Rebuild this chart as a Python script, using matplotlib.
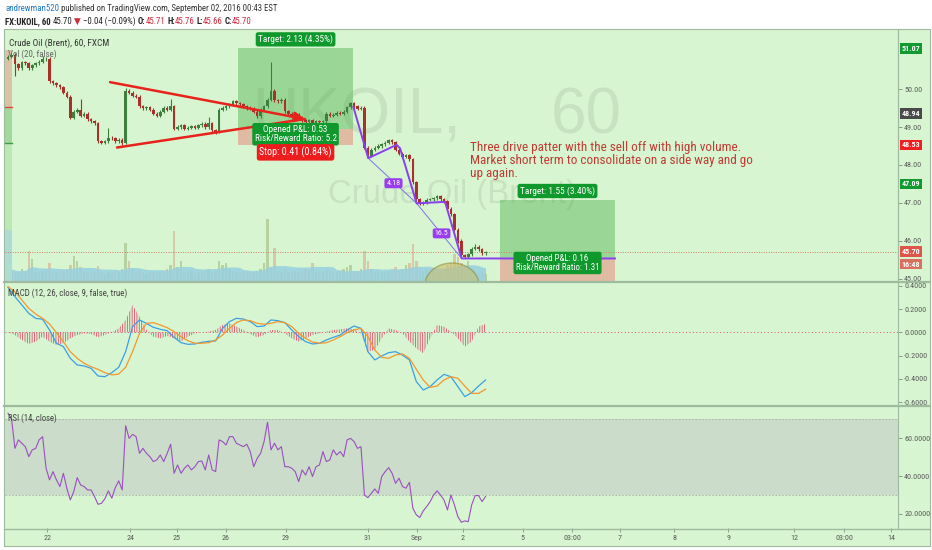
import matplotlib
matplotlib.use('Agg')
import matplotlib.pyplot as plt
import numpy as np
import pandas as pd
from matplotlib import font_manager as fm
from matplotlib.patches import Rectangle, Ellipse
from matplotlib.lines import Line2D
from matplotlib.ticker import FormatStrFormatter

# ---- dati (barre da 2 ore, indice 0..138) ----
first_open = 50.80
closes = [
    50.85, 50.90, 50.65, 50.55, 50.70, 50.68, 50.55, 50.62, 50.68, 50.72,
    50.78, 50.80, 50.20, 50.15, 50.10, 50.05, 49.90, 49.80, 49.25, 49.40,
    49.45, 49.30, 49.35, 49.20, 49.15, 49.10, 48.62, 48.58, 48.62, 48.72,
    48.70, 48.62, 48.66, 48.58, 49.95, 49.90, 49.82, 49.80, 49.55, 49.50,
    49.52, 49.45, 49.35, 49.30, 49.40, 49.50, 49.45, 49.55, 48.95, 49.00,
    49.05, 48.95, 48.98, 49.02, 48.98, 49.05, 49.08, 49.00, 49.10, 48.92,
    48.88, 49.45, 49.50, 49.55, 49.58, 49.68, 49.62, 49.60, 49.55, 49.50,
    49.48, 49.40, 49.28, 49.45, 49.55, 49.72, 49.95, 49.70, 49.68, 49.72,
    49.42, 49.35, 49.30, 49.32, 49.25, 49.18, 49.12, 49.18, 49.10, 49.15,
    49.12, 49.15, 49.35, 49.30, 49.32, 49.38, 49.35, 49.40, 49.52, 49.62,
    49.55, 49.48, 49.50, 48.45, 48.25, 48.40, 48.45, 48.50, 48.55, 48.58,
    48.65, 48.60, 48.40, 48.30, 48.22, 48.25, 48.15, 47.55, 47.10, 47.00,
    47.02, 47.08, 47.10, 47.12, 47.18, 47.10, 47.05, 46.85, 46.70, 46.30,
    46.00, 45.62, 45.58, 45.65, 45.80, 45.85, 45.78, 45.68, 45.70,
]
spike_high = {10: 50.88, 21: 49.75, 29: 48.97, 34: 50.02, 47: 49.75, 58: 49.27,
              76: 50.72, 124: 47.22, 135: 45.92}
spike_low = {2: 50.33, 33: 48.52, 60: 48.82, 131: 45.55}

volume = [
    14, 10, 9, 8, 12, 10, 30, 22, 9, 8,
    10, 12, 18, 9, 8, 10, 9, 12, 16, 25,
    20, 14, 9, 8, 10, 9, 15, 8, 7, 9,
    8, 10, 9, 12, 38, 20, 12, 9, 10, 8,
    7, 9, 8, 10, 9, 8, 12, 16, 50, 14,
    20, 9, 8, 10, 7, 9, 8, 10, 12, 9,
    10, 20, 16, 18, 12, 10, 9, 8, 10, 9,
    8, 9, 10, 12, 18, 62, 14, 33, 10, 9,
    12, 9, 8, 10, 9, 8, 12, 10, 18, 9,
    8, 9, 12, 10, 8, 9, 10, 12, 14, 16,
    10, 9, 12, 30, 20, 12, 9, 10, 8, 9,
    10, 12, 14, 10, 12, 16, 18, 37, 20, 14,
    10, 12, 9, 10, 8, 9, 12, 16, 18, 27,
    24, 18, 14, 20, 12, 10, 8, 9, 7,
]

# MACD letto ogni 2 barre
macd_line = [
    0.386, 0.306, 0.235, 0.163, 0.120, 0.112, 0.020, -0.094, -0.123, -0.223,
    -0.280, -0.289, -0.309, -0.375, -0.381, -0.346, -0.300, -0.166, 0.049, 0.106,
    0.077, 0.043, 0.026, 0.014, -0.043, -0.089, -0.103, -0.100, -0.086, -0.077,
    -0.074, 0.034, 0.092, 0.120, 0.114, 0.092, 0.049, 0.054, 0.106, 0.100,
    0.083, 0.020, -0.037, -0.080, -0.100, -0.094, -0.066, -0.043, -0.023, 0.020,
    0.054, 0.034, -0.166, -0.237, -0.203, -0.175, -0.166, -0.195, -0.237, -0.423,
    -0.495, -0.466, -0.409, -0.361, -0.381, -0.466, -0.552, -0.518, -0.461, -0.409,
]
signal_line = [
    0.392, 0.349, 0.278, 0.206, 0.157, 0.120, 0.072, -0.003, -0.080, -0.166,
    -0.223, -0.266, -0.295, -0.318, -0.346, -0.366, -0.358, -0.300, -0.166, -0.009,
    0.077, 0.083, 0.063, 0.040, 0.006, -0.037, -0.072, -0.094, -0.094, -0.089,
    -0.066, -0.023, 0.034, 0.083, 0.106, 0.100, 0.077, 0.069, 0.077, 0.092,
    0.083, 0.049, -0.009, -0.052, -0.083, -0.094, -0.089, -0.066, -0.037, -0.003,
    0.020, 0.034, -0.037, -0.152, -0.215, -0.223, -0.195, -0.186, -0.223, -0.318,
    -0.409, -0.472, -0.461, -0.409, -0.381, -0.395, -0.461, -0.524, -0.524, -0.489,
]
macd_hist = [
    0.000, -0.023, -0.066, -0.100, -0.080, -0.037, -0.080, -0.109, -0.094, -0.052,
    -0.023, -0.009, -0.014, -0.043, -0.023, 0.000, 0.034, 0.106, 0.235, 0.134,
    0.020, -0.037, -0.052, -0.031, -0.052, -0.080, -0.037, -0.009, 0.000, 0.006,
    0.020, 0.063, 0.077, 0.049, 0.020, -0.014, -0.043, -0.023, 0.020, 0.020,
    -0.009, -0.052, -0.080, -0.052, -0.023, -0.009, 0.006, 0.020, 0.026, 0.034,
    0.026, -0.009, -0.166, -0.152, -0.052, 0.034, 0.020, -0.009, -0.080, -0.137,
    -0.180, -0.052, 0.063, 0.049, 0.006, -0.052, -0.123, -0.080, 0.049, 0.072,
]

rsi = [
    73.3, 70.6, 54.7, 59.2, 57.4, 55.6, 50.3, 53.9, 54.7, 59.2,
    60.9, 44.2, 38.0, 42.4, 38.0, 34.5, 41.5, 33.6, 27.4, 31.8,
    39.2, 35.3, 34.5, 32.7, 32.7, 29.2, 25.1, 25.6, 28.0, 32.2,
    28.3, 33.9, 37.5, 32.7, 66.7, 60.0, 62.1, 60.9, 52.1, 54.7,
    52.1, 50.3, 47.7, 48.6, 51.2, 47.7, 52.1, 56.9, 41.5, 45.9,
    41.5, 44.2, 45.9, 43.3, 45.0, 47.7, 48.0, 43.3, 51.2, 43.3,
    42.4, 59.2, 58.3, 56.5, 60.9, 60.9, 57.4, 56.5, 55.6, 56.9,
    53.0, 45.0, 49.4, 52.1, 58.3, 68.5, 53.9, 57.4, 53.9, 55.6,
    45.0, 45.0, 44.2, 42.4, 37.1, 43.3, 40.6, 45.0, 39.8, 45.0,
    45.9, 53.0, 47.7, 48.6, 53.9, 51.2, 53.0, 50.3, 59.2, 60.0,
    58.3, 54.7, 55.6, 30.0, 28.6, 30.9, 33.2, 30.9, 39.8, 42.4,
    44.5, 41.5, 36.2, 38.9, 34.5, 33.6, 36.7, 23.0, 19.5, 18.1,
    21.6, 23.9, 26.5, 30.0, 32.2, 30.0, 27.4, 22.1, 30.0, 24.8,
    18.6, 15.6, 16.3, 15.9, 24.8, 29.7, 29.7, 26.5, 29.2,
]

date_ticks = [11.3, 35.3, 48.8, 63.0, 80.3, 104.0, 118.2, 131.5, 148.8, 163.0,
              176.9, 192.5, 208.1, 227.2, 241.6, 255.2]
date_labels = ['22', '24', '25', '26', '29', '31', 'Sep', '2', '5', '03:00',
               '7', '8', '9', '12', '03:00', '14']

# disegni (in barre / prezzo)
pos1 = dict(x0=66.5, x1=99.7, target=51.07, entry=48.94, stop=48.53)
pos2 = dict(x0=142.2, x1=175.4, target=47.09, entry=45.54, stop=44.36)
tri_upper = [(29.5, 50.18), (85.8, 49.21)]
tri_lower = [(31.5, 48.46), (85.8, 49.21)]
drive_x = [99.8, 104.1, 112.3, 113.3, 118.1, 126.3, 131.1, 175.4]
drive_y = [49.53, 48.18, 48.53, 48.44, 46.99, 47.03, 45.54, 45.54]
drive_thin_x = [104.1, 118.1, 131.1]
drive_thin_y = [48.18, 46.99, 45.54]
last_price = 45.70
axis_tags = [('51.07', 51.07, '#109a30'), ('48.94', 49.36, '#4a4a4a'),
             ('48.53', 48.53, '#f01e1e'), ('47.09', 47.50, '#109a30'),
             ('45.70', 45.72, '#e0554a'), ('16:48', 45.39, '#d9705e')]

# ---- font: preferiamo un carattere stretto se installato ----
_names = {f.name for f in fm.fontManager.ttflist}
_narrow = [n for n in ('Liberation Sans Narrow', 'Roboto Condensed', 'Open Sans Condensed')
           if n in _names]
STRETCH = 'normal'
if _narrow:
    FONT, BOOST = [_narrow[0], 'DejaVu Sans'], 1.0
elif any(f.name == 'DejaVu Sans' and str(f.stretch) in ('condensed', 'semi-condensed')
         for f in fm.fontManager.ttflist):
    FONT, BOOST, STRETCH = ['DejaVu Sans'], 1.0, 'condensed'
else:
    FONT, BOOST = ['Liberation Sans', 'DejaVu Sans'], 1.13
WIDE = ['Liberation Sans', 'DejaVu Sans']

# ---- figura ----
W, H = 932, 550
BG = '#d7f5d0'
FRAME = '#9fbb9f'
UP, DOWN = '#3d7f3d', '#a8322a'
plt.rcParams['hatch.linewidth'] = 0.6
plt.rcParams['hatch.color'] = '#e2506e'

fig = plt.figure(figsize=(W / 100, H / 100), dpi=100)
fig.patch.set_facecolor('white')
R = fig.canvas.get_renderer()


def px_axes(l, t, r, b, **kw):
    return fig.add_axes([l / W, 1 - b / H, (r - l) / W, (b - t) / H], **kw)


def fit(t, width_px, boost=None):
    w = t.get_window_extent(R).width
    t.set_fontsize(t.get_fontsize() * width_px / w * (BOOST if boost is None else boost))


def ftext(x, y, s, width=None, **kw):
    kw.setdefault('family', FONT)
    kw.setdefault('stretch', STRETCH)
    t = fig.text(x / W, 1 - y / H, s, **kw)
    if width:
        fit(t, width)
    return t


def seq_text(x0, y0, parts, total_w, base=7):
    def build(fs):
        tmp = fig.text(0, 0, 'x x', fontsize=fs, family=FONT, stretch=STRETCH)
        w1 = tmp.get_window_extent(R).width
        tmp.set_text('xx')
        sp = w1 - tmp.get_window_extent(R).width
        tmp.remove()
        x, arts = x0, []
        for s, c, wgt, gap in parts:
            t = fig.text(x / W, 1 - y0 / H, s, color=c, fontweight=wgt, fontsize=fs,
                         family=FONT, stretch=STRETCH, va='baseline', ha='left')
            x += t.get_window_extent(R).width + (sp if gap else 0)
            arts.append(t)
        return arts, x - x0
    arts, w = build(base)
    for a in arts:
        a.remove()
    build(base * total_w / w * BOOST)


# sfondo con cornice
bg = px_axes(4, 29, 930, 546)
bg.set_facecolor(BG)
bg.set_xticks([])
bg.set_yticks([])
for s in bg.spines.values():
    s.set_color(FRAME)

ax = px_axes(5, 30, 898, 281)
vax = ax.twinx()
am = px_axes(5, 282, 898, 405, sharex=ax)
ar = px_axes(5, 407, 898, 528, sharex=ax)

for a in (ax, vax, am, ar):
    a.set_facecolor('none')
    for k, s in a.spines.items():
        s.set_visible(k == 'right')
        s.set_color(FRAME)
ax.set_zorder(vax.get_zorder() + 1)
ax.set_xlim(-0.87, 257.2)

# separatori pannelli
for yy in (281.5, 406.0, 528.5):
    fig.add_artist(Line2D([4 / W, 930 / W], [1 - yy / H] * 2, color=FRAME,
                          lw=1.6 if yy < 500 else 1.0))

# ---- pannello prezzo ----
ax.set_ylim(44.947, 51.553)
vax.set_ylim(0, 250)
vax.set_yticks([])
vax.tick_params(right=False, labelright=False)

x = np.arange(len(closes))
c = np.array(closes)
o = np.r_[first_open, c[:-1]]
hi = np.maximum(o, c) + 0.04
lo = np.minimum(o, c) - 0.04
for k, v in spike_high.items():
    hi[k] = v
for k, v in spike_low.items():
    lo[k] = v
col = np.where(c >= o, UP, DOWN)

# volume + media 20
vcol = np.where(c >= o, '#b3cf9c', '#d8c3a2')
vax.bar(x, volume, width=0.7, color=vcol, alpha=0.9, zorder=1)
vma = pd.Series(volume).rolling(20, min_periods=1).mean()
vax.fill_between(x, 0, vma, color='#98d0e0', alpha=0.85, lw=0, zorder=2)

# striscia a sinistra
ax.add_patch(Rectangle((-0.87, 49.53), 2.0, 51.03 - 49.53, fc='#dcc2a4', ec='none', zorder=1))
ax.add_patch(Rectangle((-0.87, 48.58), 2.0, 49.53 - 48.58, fc='#a2d99a', ec='none', zorder=1))
ax.add_patch(Rectangle((-0.87, 46.30), 2.0, 48.58 - 46.30, fc='#bce8b4', ec='none', zorder=1))
ax.add_patch(Rectangle((-0.87, 44.95), 2.0, 46.30 - 44.95, fc='#aedcd0', ec='none', zorder=1))
ax.plot([-0.87, 1.13], [49.53, 49.53], color='#e04a3a', lw=1, zorder=1.2)
ax.plot([-0.87, 1.13], [48.58, 48.58], color='#3aa040', lw=1, zorder=1.2)

# filigrana (simbolo a sinistra, timeframe a destra, come su TradingView)
WM = dict(transform=fig.transFigure, va='baseline', color='#7a8a7a', alpha=0.17,
          fontsize=46, family=WIDE, zorder=0.5)
ax.text(252 / W, 1 - 133 / H, 'UKOIL,', ha='left', **WM)
ax.text(622 / W, 1 - 133 / H, '60', ha='right', **WM)
wm2 = ax.text(452 / W, 1 - 194 / H, 'Crude Oil (Brent)', transform=fig.transFigure,
              ha='center', va='center', color='#7a8a7a', alpha=0.17, fontsize=26,
              family=WIDE, zorder=0.5)
fit(wm2, 250, 1.0)

# posizioni long (zone semitrasparenti, la filigrana resta visibile)
for p in (pos1, pos2):
    ax.add_patch(Rectangle((p['x0'], p['entry']), p['x1'] - p['x0'], p['target'] - p['entry'],
                           fc='#3caa3c', alpha=0.39, ec='none', zorder=1.5))
    ax.add_patch(Rectangle((p['x0'], p['stop']), p['x1'] - p['x0'], p['entry'] - p['stop'],
                           fc='#ed6464', alpha=0.40, ec='none', zorder=1.5))

# ellisse in basso
ax.add_patch(Ellipse((128.3, 44.84), 15.6, 1.16, fc='#c8c070', ec='#8e8e3a', lw=1,
                     alpha=0.6, zorder=2))

ax.axhline(last_price, color='#d0806a', ls=(0, (1, 1.5)), lw=0.7, zorder=3)

# candele
ax.vlines(x, lo, hi, colors=col, lw=0.8, zorder=4)
ax.bar(x, np.maximum(np.abs(c - o), 0.015), bottom=np.minimum(o, c), width=0.75,
       color=col, zorder=5)

# triangolo rosso
(ux0, uy0), (ux1, uy1) = tri_upper
ax.annotate('', xy=(ux1, uy1), xytext=(ux0, uy0),
            arrowprops=dict(arrowstyle='-|>,head_length=0.6,head_width=0.3',
                            color='#e8231c', lw=1.8, shrinkA=0, shrinkB=0), zorder=6)
ax.plot(*zip(*tri_lower), color='#e8231c', lw=1.8, zorder=6, solid_capstyle='round')

# three drive
ax.plot(drive_thin_x, drive_thin_y, color='#7a74e6', lw=0.7, zorder=6)
ax.plot(drive_x, drive_y, color='#8a3ff0', lw=1.4, zorder=6)


def tag(xp, yp, s, fc, dy_px, width_px, z=9):
    t = ax.annotate(s, xy=(xp, yp), xytext=(0, dy_px * 0.72), textcoords='offset points',
                    ha='center', va='center', color='white', fontsize=7, family=FONT,
                    stretch=STRETCH, linespacing=1.0, zorder=z,
                    bbox=dict(boxstyle='round,pad=0.25,rounding_size=0.25', fc=fc, ec='none'))
    fit(t, width_px)
    return t


GREEN_TAG, RED_TAG, PURPLE_TAG = '#0f982b', '#ee1d1d', '#9a3cf0'
c1 = (pos1['x0'] + pos1['x1']) / 2
c2 = (pos2['x0'] + pos2['x1']) / 2
tag(c1, pos1['target'], 'Target: %.2f (4.35%%)' % (pos1['target'] - pos1['entry']), GREEN_TAG, 9, 76)
tag(c1, pos1['entry'], 'Opened P&L: 0.53\nRisk/Reward Ratio: 5.2', GREEN_TAG, -5, 82)
tag(c1, pos1['stop'], 'Stop: %.2f (0.84%%)' % (pos1['entry'] - pos1['stop']), RED_TAG, -7.5, 73)
tag(c2, pos2['target'], 'Target: %.2f (3.40%%)' % (pos2['target'] - pos2['entry']), GREEN_TAG, 8.6, 76)
tag(c2, pos2['entry'], 'Opened P&L: 0.16\nRisk/Reward Ratio: 1.31', GREEN_TAG, -4.5, 84)
tag(111.4, 47.52, '4.18', PURPLE_TAG, 0, 14)
tag(125.3, 46.20, '16.5', PURPLE_TAG, 0, 14)

# asse prezzi a destra
ax.yaxis.tick_right()
ax.set_yticks([45, 46, 47, 48, 49, 50])
ax.yaxis.set_major_formatter(FormatStrFormatter('%.2f'))
for a in (ax, am, ar):
    a.tick_params(axis='y', direction='out', length=3, width=0.6, color='#7d8f7d',
                  labelcolor='#5a5a5a', labelsize=5.8, pad=1.5)
    a.yaxis.tick_right()
ax.tick_params(axis='x', bottom=False, labelbottom=False)
am.tick_params(axis='x', bottom=False, labelbottom=False)

for s, yv, fc in axis_tags:
    ax.annotate(s, xy=(1, yv), xycoords=('axes fraction', 'data'), xytext=(2.6, 0),
                textcoords='offset points', ha='left', va='center', color='white',
                fontsize=5.8, family=FONT, stretch=STRETCH, fontweight='bold',
                annotation_clip=False, zorder=10,
                bbox=dict(boxstyle='square,pad=0.22', fc=fc, ec='none'))

# ---- MACD ----
am.set_ylim(-0.624, 0.432)
mx = np.arange(0, len(closes), 2)
am.axhline(0, color='#e2506e', ls=(0, (1, 2.5)), lw=0.7)
am.fill_between(mx, 0, macd_hist, facecolor='none', edgecolor='#e2506e',
                hatch='|||||||', linewidth=0)
am.plot(mx, macd_line, color='#3b9fe6', lw=0.9)
am.plot(mx, signal_line, color='#f2972f', lw=0.9)
am.set_yticks([0.4, 0.2, 0.0, -0.2, -0.4, -0.6])
am.yaxis.set_major_formatter(FormatStrFormatter('%.4f'))

# ---- RSI ----
ar.set_ylim(12.54, 76.6)
ar.axhspan(30, 70, color='#cbdcca', lw=0, zorder=0)
for lv in (30, 70):
    ar.axhline(lv, color='#a3b3a3', ls=(0, (2, 2)), lw=0.6, zorder=0.5)
ar.plot(x, rsi, color='#9b4fbf', lw=0.8)
ar.set_yticks([20, 40, 60])
ar.yaxis.set_major_formatter(FormatStrFormatter('%.4f'))

ar.set_xticks(date_ticks)
ar.set_xticklabels(date_labels)
ar.tick_params(axis='x', direction='out', length=3, width=0.6, color='#7d8f7d',
               labelcolor='#5a5a5a', labelsize=5.8, pad=2)
for a in (ax, am, ar):
    for lab in a.get_yticklabels() + a.get_xticklabels():
        lab.set_family(FONT)
        lab.set_stretch(STRETCH)

# ---- testi ----
seq_text(5, 11, [('andrewman520', '#1f78c1', 'normal', True),
                 ('published on TradingView.com, September 02, 2016 00:43 EST', '#333333',
                  'normal', False)], 272)
RED = '#cf2a3a'
DARK = '#222222'
seq_text(5, 24, [('FX:UKOIL, 60', DARK, 'bold', True), ('45.70', DARK, 'normal', True),
                 ('\u25bc', RED, 'normal', True), ('\u22120.04 (\u22120.09%)', DARK, 'normal', True),
                 ('O:', DARK, 'bold', False), ('45.71', RED, 'normal', True),
                 ('H:', DARK, 'bold', False), ('45.76', RED, 'normal', True),
                 ('L:', DARK, 'bold', False), ('45.66', RED, 'normal', True),
                 ('C:', DARK, 'bold', False), ('45.70', RED, 'normal', False)], 248)

ftext(9, 46, 'Crude Oil (Brent), 60, FXCM', width=100, color='#333333', va='baseline')
ftext(8, 57, 'Vol (20, false)', width=49, color='#666666', va='baseline')
ftext(8, 296, 'MACD (12, 26, close, 9, false, true)', width=120, color='#444444', va='baseline')
ftext(8, 421, 'RSI (14, close)', width=49, color='#444444', va='baseline')
ftext(470, 141, 'Three drive patter with the sell off with high volume.\n'
      'Market short term to consolidate on a side way and go\nup again.',
      width=282, color='#c23b33', va='top', linespacing=1.0)

fig.savefig('out.png', dpi=100, facecolor=fig.get_facecolor())
